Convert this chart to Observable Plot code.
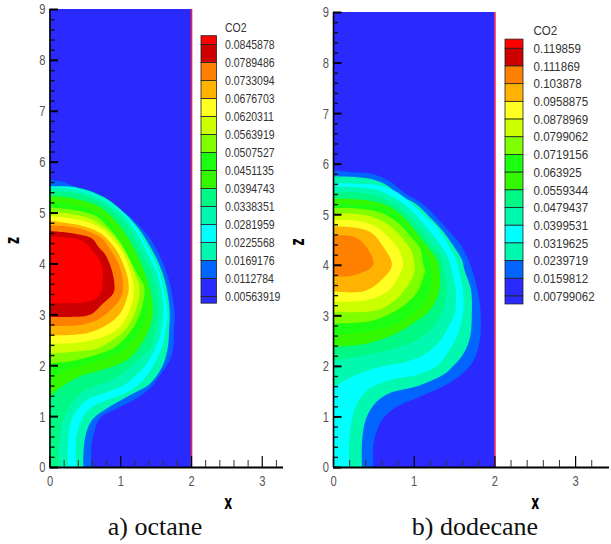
<!DOCTYPE html>
<html><head><meta charset="utf-8">
<script src="https://cdn.jsdelivr.net/npm/d3@7"></script>
<script src="https://cdn.jsdelivr.net/npm/@observablehq/plot@0.6"></script>
<style>
html,body{margin:0;padding:0;background:#fff}
#page{position:relative;width:611px;height:544px;overflow:hidden}
#page svg{position:absolute;overflow:visible;background:transparent}
.cap{position:absolute;font-family:"Liberation Serif",serif;font-size:26px;color:#111;white-space:nowrap;transform:translateX(-50%)}
</style></head><body><div id="page"></div>
<script>
// Contour band colours, from outermost band to innermost
const bandColors = ["#0066ff","#00f8b0","#00ffff","#00f8b0","#00f884","#33f800","#1cff10","#7fff00","#ccff00","#ffff22","#ffb300","#ff7f00","#cc0000","#ff0000"];
const backgroundColor = "#2a2aff";

// Legend: from top cell to bottom cell
const legendColors = ["#ff0000","#cc0000","#ff7f00","#ffb300","#ffff22","#ccff00","#7fff00","#1cff10","#33f800","#00f884","#00f8b0","#00ffff","#00f8b0","#0066ff","#2a2aff","#2a2aff"];
const octaneLevels = ["0.0845878","0.0789486","0.0733094","0.0676703","0.0620311","0.0563919","0.0507527","0.0451135","0.0394743","0.0338351","0.0281959","0.0225568","0.0169176","0.0112784","0.00563919"];
const dodecaneLevels = ["0.119859","0.111869","0.103878","0.0958875","0.0878969","0.0799062","0.0719156","0.063925","0.0559344","0.0479437","0.0399531","0.0319625","0.0239719","0.0159812","0.00799062"];

// Each contour: [x, z] pairs, going up the z axis
const octaneContours = [
 [[.59,0],[.59,.36],[.63,.69],[.72,.97],[.92,1.13],[1.22,1.34],[1.44,1.57],[1.58,1.84],[1.7,2.1],[1.75,2.36],[1.76,2.69],[1.77,3.02],[1.73,3.41],[1.66,3.8],[1.54,4.2],[1.42,4.49],[1.3,4.69],[1.14,4.92],[1.02,5.04],[.86,5.21],[.62,5.41],[.34,5.52],[.2,5.6],[0,5.64]],
 [[.48,0],[.48,.29],[.51,.62],[.58,.88],[.7,1.05],[.94,1.26],[1.19,1.45],[1.4,1.61],[1.54,1.84],[1.63,2.1],[1.68,2.43],[1.69,2.69],[1.7,3.02],[1.67,3.41],[1.6,3.8],[1.5,4.13],[1.38,4.43],[1.26,4.69],[1.09,4.95],[.95,5.13],[.76,5.31],[.53,5.44],[.29,5.51],[0,5.515]],
 [[.38,0],[.37,.36],[.39,.65],[.49,1.02],[.6,1.18],[.84,1.33],[1.1,1.47],[1.3,1.67],[1.47,2],[1.6,2.4],[1.64,2.69],[1.67,3.02],[1.63,3.41],[1.56,3.8],[1.47,4.1],[1.34,4.43],[1.23,4.69],[1.07,4.95],[.93,5.11],[.74,5.28],[.5,5.42],[.25,5.5],[0,5.505]],
 [[.26,0],[.26,.43],[.3,.88],[.42,1.18],[.56,1.34],[.79,1.46],[1.03,1.59],[1.22,1.8],[1.36,2],[1.52,2.4],[1.58,2.69],[1.61,3.02],[1.59,3.41],[1.52,3.8],[1.42,4.1],[1.3,4.43],[1.19,4.69],[1.04,4.95],[.9,5.11],[.71,5.28],[.48,5.41],[.2,5.48],[0,5.49]],
 [[.13,0],[.13,.46],[.18,.88],[.3,1.24],[.46,1.47],[.7,1.62],[.94,1.76],[1.16,2],[1.42,2.35],[1.5,2.69],[1.54,3.02],[1.52,3.41],[1.45,3.8],[1.35,4.1],[1.23,4.43],[1.12,4.69],[.97,4.95],[.83,5.11],[.64,5.25],[.43,5.36],[.2,5.41],[0,5.42]],
 [[0,1.38],[.13,1.54],[.28,1.67],[.46,1.8],[.7,1.89],[.98,2.02],[1.14,2.15],[1.28,2.38],[1.4,2.69],[1.46,3.02],[1.43,3.41],[1.35,3.8],[1.26,4.1],[1.14,4.43],[1.02,4.69],[.88,4.92],[.71,5.11],[.53,5.21],[.24,5.3],[0,5.32]],
 [[0,1.72],[.15,1.85],[.4,1.98],[.7,2.1],[.95,2.22],[1.12,2.38],[1.29,2.69],[1.38,3.02],[1.38,3.41],[1.28,3.8],[1.13,4.2],[1,4.48],[.9,4.7],[.73,4.95],[.5,5.1],[.2,5.18],[0,5.2]],
 [[0,2.04],[.3,2.08],[.65,2.2],[.95,2.38],[1.16,2.69],[1.27,2.98],[1.33,3.28],[1.34,3.54],[1.24,3.8],[1.09,4.2],[.98,4.46],[.85,4.68],[.66,4.93],[.3,5.06],[0,5.1]],
 [[0,2.23],[.38,2.27],[.67,2.33],[.9,2.5],[1.07,2.69],[1.18,2.95],[1.26,3.28],[1.27,3.54],[1.21,3.8],[1.08,4.2],[.96,4.46],[.82,4.66],[.6,4.87],[.3,4.97],[0,5.02]],
 [[0,2.42],[.38,2.44],[.71,2.53],[.95,2.69],[1.09,2.95],[1.18,3.28],[1.19,3.54],[1.15,3.8],[1.04,4.2],[.9,4.46],[.76,4.66],[.53,4.82],[0,4.93]],
 [[0,2.59],[.53,2.63],[.81,2.79],[1,3.02],[1.1,3.35],[1.12,3.54],[1.09,3.8],[.97,4.2],[.83,4.46],[.69,4.62],[.43,4.75],[0,4.84]],
 [[0,2.77],[.43,2.79],[.67,2.89],[.86,3.08],[1,3.31],[1.04,3.54],[.99,3.94],[.88,4.23],[.74,4.49],[.57,4.62],[.29,4.72],[0,4.75]],
 [[0,2.95],[.29,2.95],[.57,2.99],[.76,3.22],[.9,3.41],[.92,3.54],[.88,3.87],[.79,4.17],[.69,4.33],[.6,4.49],[.34,4.59],[0,4.64]],
 [[0,3.22],[.43,3.23],[.62,3.28],[.74,3.48],[.75,3.67],[.74,3.97],[.62,4.23],[.48,4.43],[.34,4.49],[0,4.53]]
];
const dodecaneContours = [
 [[.5,0],[.5,.43],[.54,.7],[.62,.96],[.79,1.19],[1.03,1.36],[1.36,1.59],[1.6,1.84],[1.74,2.1],[1.81,2.43],[1.83,2.7],[1.82,3.23],[1.76,3.69],[1.68,4.09],[1.57,4.42],[1.43,4.68],[1.26,4.98],[1.08,5.24],[.87,5.44],[.71,5.64],[.5,5.79],[.25,5.83],[0,5.87]],
 [[.36,0],[.36,.5],[.41,.96],[.54,1.29],[.7,1.46],[1.03,1.59],[1.36,1.82],[1.46,1.95],[1.62,2.25],[1.7,2.58],[1.72,3.04],[1.71,3.5],[1.63,3.89],[1.6,4.09],[1.49,4.38],[1.37,4.65],[1.2,4.94],[1.02,5.21],[.83,5.37],[.67,5.57],[.46,5.7],[0,5.75]],
 [[.2,0],[.2,.5],[.23,.9],[.31,1.29],[.45,1.55],[.7,1.72],[1.03,1.82],[1.3,2.02],[1.44,2.31],[1.55,2.64],[1.61,3.04],[1.61,3.5],[1.56,3.89],[1.53,4.09],[1.42,4.42],[1.28,4.75],[1.13,4.98],[.95,5.24],[.79,5.44],[.58,5.57],[.33,5.6],[0,5.62]],
 [[0,1.55],[.12,1.69],[.29,1.82],[.5,1.95],[.7,2.02],[.83,2.05],[1.12,2.21],[1.32,2.48],[1.43,2.77],[1.51,3.04],[1.52,3.5],[1.47,3.89],[1.44,4.09],[1.32,4.42],[1.18,4.71],[1.03,4.98],[.87,5.21],[.71,5.37],[.54,5.49],[.25,5.54],[0,5.55]],
 [[0,2.11],[.41,2.21],[.83,2.38],[1.07,2.54],[1.24,2.77],[1.36,3.1],[1.41,3.5],[1.38,3.89],[1.36,4.09],[1.22,4.42],[1.08,4.71],[.93,4.98],[.79,5.17],[.62,5.31],[.42,5.41],[0,5.44]],
 [[0,2.38],[.41,2.44],[.74,2.61],[.99,2.84],[1.2,3.1],[1.31,3.43],[1.32,3.89],[1.29,4.09],[1.14,4.42],[1,4.71],[.85,4.98],[.71,5.14],[.54,5.24],[.33,5.29],[0,5.31]],
 [[0,2.61],[.5,2.7],[.87,2.9],[1.12,3.23],[1.21,3.5],[1.22,3.89],[1.19,4.09],[1.06,4.42],[.94,4.71],[.8,4.98],[.62,5.14],[.33,5.19],[0,5.21]],
 [[0,2.84],[.5,2.9],[.83,3.14],[1.03,3.43],[1.12,3.76],[1.14,3.89],[1.12,4],[1.08,4.32],[.95,4.58],[.79,4.85],[.58,5.04],[.33,5.11],[0,5.12]],
 [[0,3.07],[.54,3.1],[.79,3.33],[.97,3.7],[1.01,3.89],[1.01,4],[.97,4.28],[.83,4.58],[.67,4.81],[.46,4.96],[.25,5.01],[0,5.01]],
 [[0,3.27],[.41,3.3],[.7,3.5],[.85,3.89],[.87,4],[.81,4.32],[.67,4.58],[.5,4.78],[.25,4.88],[0,4.89]],
 [[0,3.47],[.39,3.48],[.62,3.73],[.73,4],[.58,4.45],[.46,4.65],[.17,4.75],[0,4.755]],
 [[0,3.77],[.25,3.79],[.5,4],[.38,4.42],[.25,4.56],[0,4.58]]
];
const majorZ = [0,1,2,3,4,5,6,7,8,9];
const majorX = [0,1,2,3];
const minorZ = d3.range(0,9.01,.2).map(d=>+d.toFixed(1)).filter(d=>!Number.isInteger(d));
const minorX = d3.range(0,3.3,.2).map(d=>+d.toFixed(1)).filter(d=>!Number.isInteger(d));

const page = document.getElementById("page");
const SANS = '"Liberation Sans",sans-serif';
const asInt = d => String(d);

// The reference's lettering is condensed: squeeze glyphs along their own width
function squeeze(svg, label, sx){
  svg.querySelectorAll(`g[aria-label="${label}"] text`).forEach(el=>{
    const t = el.getAttribute("transform") || "";
    el.setAttribute("transform", `${t} scale(${sx},1)`);
  });
}

function panel(contours, o){
  const rows = contours.flatMap((c,i)=>c.map(([x,h])=>({band:i,x,h,color:bandColors[i]})));
  const svg = Plot.plot({
    width:o.width,height:520,
    marginLeft:o.ml,marginRight:o.mr,marginTop:o.mt,marginBottom:53,
    style:{background:"transparent",overflow:"visible"},
    x:{domain:[0,o.xMax]},
    y:{domain:[0,9]},
    color:{type:"identity"},
    marks:[
      Plot.rect([0],{x1:()=>0,x2:()=>2,y1:()=>0,y2:()=>9,fill:backgroundColor}),
      Plot.areaX(rows,{x1:()=>0,x2:"x",y:"h",z:"band",fill:"color",curve:"catmull-rom"}),
      Plot.ruleX([2],{y1:()=>0,y2:()=>9,stroke:"#e8204c",strokeWidth:1.6}),
      Plot.ruleX([0],{y1:()=>0,y2:()=>9,stroke:"#000",strokeWidth:1.6}),
      Plot.ruleY([0],{x1:()=>0,x2:()=>o.xMax,stroke:"#000",strokeWidth:2}),
      Plot.axisY({ticks:minorZ,tickSize:-5,strokeWidth:1.4,stroke:"#111",tickFormat:()=>"",label:null}),
      Plot.axisY({ticks:majorZ,tickSize:-8.5,tickPadding:13,tickFormat:asInt,strokeWidth:2,stroke:"#000",fill:"#555",fontSize:15.5,fontFamily:SANS,label:null}),
      Plot.axisX({ticks:minorX,tickSize:-7,strokeWidth:1,stroke:"#333",tickFormat:()=>"",label:null}),
      Plot.axisX({ticks:majorX,tickSize:-11,tickPadding:18,tickFormat:asInt,strokeWidth:1.2,stroke:"#000",fill:"#555",fontSize:15.5,fontFamily:SANS,label:null}),
      Plot.text(["x"],{x:()=>o.xLabel,y:()=>0,dy:35,fontWeight:"bold",fontSize:19,fontFamily:"DejaVu Sans",fill:"#000"}),
      Plot.text(["z"],{x:()=>0,y:()=>4.46,dx:o.zDx,rotate:-90,fontWeight:"bold",fontSize:19,fontFamily:"DejaVu Sans",fill:"#000"})
    ]
  });
  squeeze(svg,"y-axis tick label",.72);
  squeeze(svg,"x-axis tick label",.72);
  squeeze(svg,"text",.65);
  svg.style.left=o.left+"px"; svg.style.top="0px";
  page.appendChild(svg);
}
function legend(levels,o){
  const n = levels.length;
  const cells = legendColors.map((color,i)=>({color,
    y1:i===0?-o.cap:i-1, y2:i===n?n-1+o.tail:i}));
  const labels = levels.map((t,i)=>({t,i}));
  const svg = Plot.plot({
    width:o.width,height:340,margin:0,
    style:{background:"transparent",overflow:"visible"},
    x:{domain:[0,1],range:[0,o.swatch],axis:null},
    y:{domain:[0,n-1],range:[o.top,o.bottom],axis:null},
    color:{type:"identity"},
    marks:[
      Plot.rect(cells,{x1:()=>0,x2:()=>1,y1:"y1",y2:"y2",fill:"color",stroke:"#222",strokeWidth:.8}),
      Plot.text(labels,{x:()=>1,y:"i",text:"t",dx:o.gap,textAnchor:"start",fontSize:o.fontSize,fontFamily:SANS,fill:"#333"}),
      Plot.text(["CO2"],{x:()=>1,y:()=>-o.co2,dx:o.gap,textAnchor:"start",fontSize:o.fontSize,fontFamily:SANS,fill:"#333"})
    ]
  });
  squeeze(svg,"text",o.squeeze);
  svg.style.left=o.left+"px"; svg.style.top="0px";
  page.appendChild(svg);
}
panel(octaneContours,{left:0,width:283,xMax:3.3,ml:49.5,mr:0,mt:9,zDx:-37,xLabel:2.52});
panel(dodecaneContours,{left:290,width:321,xMax:3.42,ml:43,mr:2,mt:12,zDx:-36,xLabel:2.5});
legend(octaneLevels,{left:201,width:110,swatch:15.5,top:44.5,bottom:296.5,cap:.49,tail:.37,co2:.92,gap:8,fontSize:12.5,squeeze:.84});
legend(dodecaneLevels,{left:504.5,width:106,swatch:18,top:48.3,bottom:296,cap:.52,tail:.45,co2:1.0,gap:10,fontSize:13,squeeze:.89});
for(const [t,x,y] of [["a) octane",155,512],["b) dodecane",475,512]]){
  const d=document.createElement("div");d.className="cap";d.textContent=t;d.style.left=x+"px";d.style.top=y+"px";page.appendChild(d);
}
</script></body></html>
